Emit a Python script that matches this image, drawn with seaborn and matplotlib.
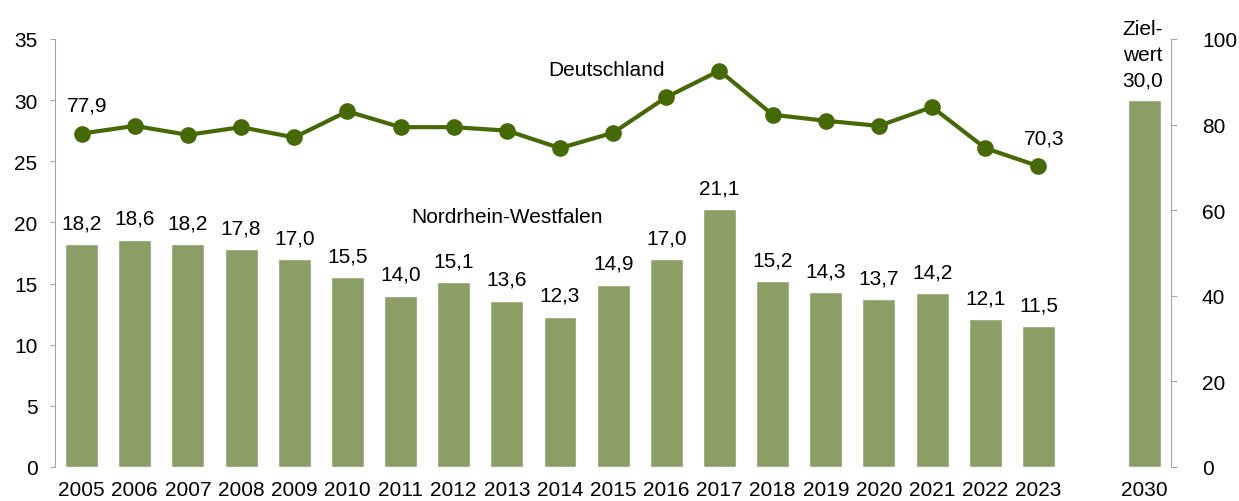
import numpy as np
import pandas as pd
import seaborn as sns
import matplotlib.pyplot as plt

# Daten
jahre = [str(j) for j in range(2005, 2024)]
nrw = [18.2, 18.6, 18.2, 17.8, 17.0, 15.5, 14.0, 15.1, 13.6, 12.3,
       14.9, 17.0, 21.1, 15.2, 14.3, 13.7, 14.2, 12.1, 11.5]
deutschland = [77.9, 79.7, 77.6, 79.4, 77.0, 83.1, 79.4, 79.4, 78.6, 74.5,
               78.1, 86.4, 92.6, 82.3, 80.9, 79.7, 84.1, 74.5, 70.3]
zieljahr = ["2030"]
zielwert = [30.0]

balken_farbe = "#8a9e66"
linien_farbe = "#466908"
grau = "#a6a6a6"
fs = 15

sns.set_style("white")
plt.rcParams['font.family'] = ['Liberation Sans', 'DejaVu Sans']
plt.rcParams['font.size'] = fs
plt.rcParams['text.color'] = 'black'
plt.rcParams['xtick.labelcolor'] = 'black'
plt.rcParams['ytick.labelcolor'] = 'black'


def komma(v):
    return f"{v:.1f}".replace(".", ",")


fig = plt.figure(figsize=(12.39, 5.02), dpi=100)
unten = 34 / 502
hoehe = 428 / 502
ax = fig.add_axes([55 / 1239, unten, (1065 - 55) / 1239, hoehe])
ax_ziel = fig.add_axes([1118 / 1239, unten, 53 / 1239, hoehe])

# Balken NRW
df = pd.DataFrame({"Jahr": jahre, "NRW": nrw})
sns.barplot(data=df, x="Jahr", y="NRW", color=balken_farbe, saturation=1,
            width=0.62, ax=ax)
ax.bar_label(ax.containers[0], labels=[komma(v) for v in nrw], padding=8.5,
             fontsize=fs, color="black")
ax.set_ylim(0, 35)
ax.set_xlim(-0.5, len(jahre) - 0.5)
ax.set_yticks(range(0, 36, 5))
ax.set_xlabel("")
ax.set_ylabel("")
ax.tick_params(axis="x", length=0, pad=9.5, labelsize=fs, labelcolor="black")
ax.tick_params(axis="y", length=3.6, color=grau, left=True, labelsize=fs, pad=9,
               labelcolor="black")
for s in ["top", "right", "bottom"]:
    ax.spines[s].set_visible(False)
ax.spines["left"].set_color(grau)
ax.text(8.0, 20.0, "Nordrhein-Westfalen", fontsize=fs, ha="center", va="baseline",
        color="black")

# Linie Deutschland (rechte Achse)
ax2 = ax.twinx()
sns.lineplot(x=np.arange(len(jahre)), y=deutschland, color=linien_farbe,
             linewidth=3, marker="o", markersize=12, markeredgewidth=0, ax=ax2)
ax2.set_ylim(0, 100)
ax2.set_yticks([])
for s in ax2.spines.values():
    s.set_visible(False)
for i in [0, len(jahre) - 1]:
    ax2.annotate(komma(deutschland[i]), (i, deutschland[i]), xytext=(4, 16.5),
                 textcoords="offset points", ha="center", va="baseline",
                 fontsize=fs, color="black")
ax2.text(9.87, 91.6, "Deutschland", fontsize=fs, ha="center", va="baseline",
         color="black")

# Zielwert 2030
dz = pd.DataFrame({"Jahr": zieljahr, "Wert": zielwert})
sns.barplot(data=dz, x="Jahr", y="Wert", color=balken_farbe, saturation=1,
            width=0.62, ax=ax_ziel)
ax_ziel.set_ylim(0, 35)
ax_ziel.set_xlim(-0.5, 0.5)
ax_ziel.set_xlabel("")
ax_ziel.set_ylabel("")
ax_ziel.set_yticks([])
ax_ziel.tick_params(axis="x", length=0, pad=9.5, labelsize=fs, labelcolor="black")
for s in ax_ziel.spines.values():
    s.set_visible(False)
ax_ziel.annotate("Ziel-\nwert\n" + komma(zielwert[0]), (0, zielwert[0]),
                 xytext=(-1, 7.5), textcoords="offset points", ha="center",
                 va="bottom", fontsize=fs, linespacing=1.45, color="black")

ax_r = ax_ziel.twinx()
ax_r.set_ylim(0, 100)
ax_r.set_yticks(range(0, 101, 20))
ax_r.tick_params(axis="y", length=4.3, color=grau, right=True, labelsize=fs, pad=18,
                 labelcolor="black")
for s in ["top", "left", "bottom"]:
    ax_r.spines[s].set_visible(False)
ax_r.spines["right"].set_color(grau)

fig.savefig("out.png", dpi=100)
